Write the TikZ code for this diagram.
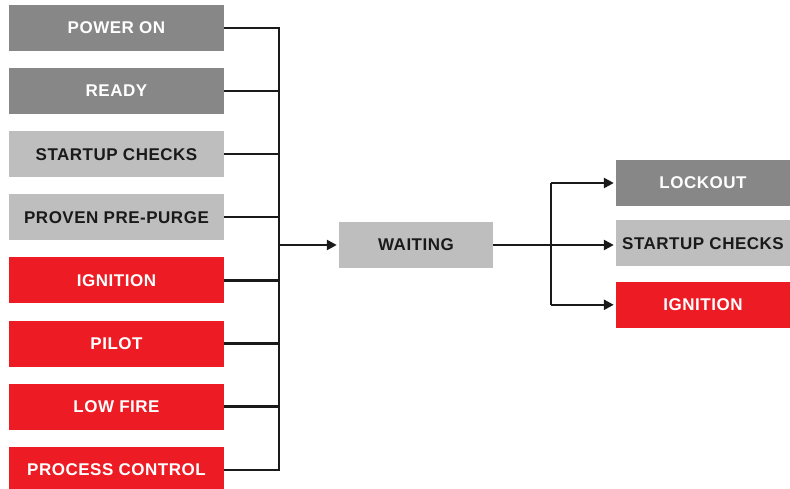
\documentclass[tikz,border=0pt]{standalone}
\usepackage{fontspec}
\setmainfont{Liberation Sans}
\usetikzlibrary{arrows.meta,positioning}
\definecolor{darkgrey}{HTML}{868786}
\definecolor{lightgrey}{HTML}{BEBEBE}
\definecolor{alarmred}{HTML}{ED1C24}
\definecolor{wiretext}{HTML}{1A1A1A}

\begin{document}
\begin{tikzpicture}[
  x=1pt, y=-1pt,
  node distance=16.7pt,
  box/.style={rectangle, minimum width=215pt, minimum height=46pt, inner sep=0pt,
              font=\fontsize{17}{17}\selectfont\bfseries\addfontfeatures{LetterSpace=3}},
  dark/.style={box, fill=darkgrey, text=white},
  light/.style={box, fill=lightgrey, text=wiretext},
  red/.style={box, fill=alarmred, text=white},
  wire/.style={line width=2.4pt, draw=wiretext},
  arrow/.style={wire, -{Triangle[length=10pt, width=10pt]}, shorten >=2pt},
]
  \useasboundingbox (0,0) rectangle (790,489);

  % left column
  \node[dark] (pwr) at (116.5,28) {POWER ON};
  \node[dark, below=of pwr] (ready) {READY};
  \node[light, below=of ready] (chk) {STARTUP CHECKS};
  \node[light, below=of chk] (purge) {PROVEN PRE-PURGE};
  \node[red, below=of purge] (ign) {IGNITION};
  \node[red, below=of ign] (pilot) {PILOT};
  \node[red, below=of pilot] (low) {LOW FIRE};
  \node[red, below=of low] (proc) {PROCESS CONTROL};

  % centre and right column
  \node[light, minimum width=154pt] (wait) at (416,245) {WAITING};
  \node[dark, minimum width=174pt] (lock) at (703,183) {LOCKOUT};
  \node[light, minimum width=174pt, below=14pt of lock] (rchk) {STARTUP CHECKS};
  \node[red, minimum width=174pt, below=15pt of rchk] (rign) {IGNITION};

  \coordinate (bus) at (279,0);
  \coordinate (split) at (551,0);

  \draw[wire] (pwr.east) -| (proc.east -| bus) -- (proc.east);
  \foreach \n in {ready,chk,purge,ign,pilot,low}
    \draw[wire] (\n.east) -- (\n.east -| bus);
  \draw[arrow] (wait.west -| bus) -- (wait.west);

  \draw[arrow] (wait.east) -- (rchk.west |- wait.east);
  \draw[wire] (split |- lock.west) -- (split |- rign.west);
  \foreach \n in {lock,rign}
    \draw[arrow] (split |- \n.west) -- (\n.west);
\end{tikzpicture}
\end{document}
